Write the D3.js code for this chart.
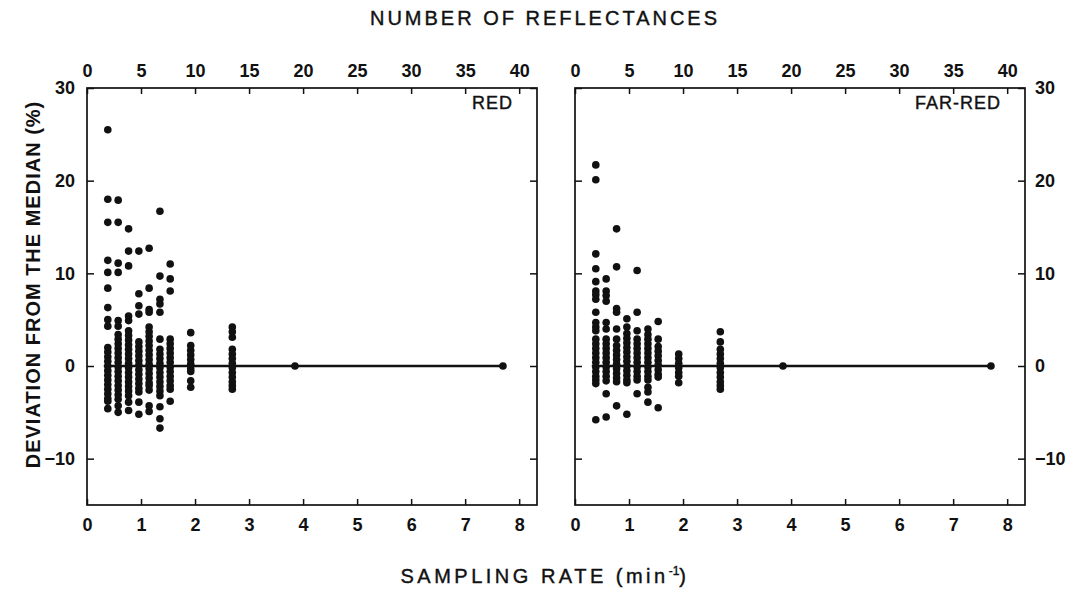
<!DOCTYPE html>
<html>
<head>
<meta charset="utf-8">
<script src="https://cdn.jsdelivr.net/npm/d3@7"></script>
<style>
  body { margin: 0; background: #fff; }
  text { font-family: "Liberation Sans", Arial, sans-serif; fill: #111; }
</style>
</head>
<body>
<div id="chart"></div>
<script>
// sampling rates (min^-1) of the columns of dots
var rates = [0.385, 0.577, 0.77, 0.96, 1.15, 1.35, 1.54, 1.92, 2.69, 3.85, 7.7];

// deviation from the median (%) per column, RED panel
var redValues = [
  [25.5, 18.0, 15.5, 11.4, 10.1, 8.4, 6.3, 5.0, 4.3, 2.0, 1.5, 1.0, 0.5, 0, -0.5, -1.0, -1.5, -2.0, -2.5, -3.0, -3.5, -3.8, -4.6],
  [17.9, 15.5, 11.1, 10.1, 4.9, 4.3, 3.4, 2.9, 2.4, 1.9, 1.4, 0.9, 0.4, -0.1, -0.6, -1.1, -1.6, -2.1, -2.6, -3.1, -3.6, -4.3, -5.0],
  [14.8, 12.4, 10.8, 5.4, 4.9, 3.8, 3.3, 2.8, 2.3, 1.8, 1.3, 0.8, 0.3, -0.2, -0.7, -1.2, -1.7, -2.2, -2.7, -3.2, -3.9, -4.8],
  [12.4, 7.8, 6.5, 5.6, 2.6, 2.1, 1.6, 1.1, 0.6, 0.1, -0.4, -0.9, -1.4, -1.9, -2.4, -2.8, -3.9, -5.2],
  [12.7, 8.4, 6.1, 5.8, 4.2, 3.7, 3.2, 2.7, 2.2, 1.7, 1.2, 0.7, 0.2, -0.3, -0.8, -1.3, -1.8, -2.1, -2.6, -4.3, -4.9],
  [16.7, 9.7, 7.2, 6.7, 5.8, 2.9, 1.8, 1.3, 0.8, 0.3, -0.2, -0.7, -1.2, -1.7, -2.2, -2.7, -3.2, -4.4, -5.7, -6.7],
  [11.0, 9.4, 8.1, 2.9, 2.4, 1.9, 1.4, 0.9, 0.4, -0.1, -0.6, -1.1, -1.6, -2.1, -2.5, -3.8],
  [3.6, 2.2, 1.7, 1.2, 0.7, 0.2, -0.3, -0.6, -1.6, -2.3],
  [4.2, 3.7, 3.1, 1.8, 1.3, 0.8, 0.3, -0.2, -0.7, -1.2, -1.7, -2.1, -2.5],
  [0],
  [0]
];

// FAR-RED panel
var farRedValues = [
  [21.7, 20.1, 12.1, 10.5, 9.1, 8.1, 7.7, 7.2, 5.8, 4.7, 4.2, 3.8, 2.9, 2.4, 1.9, 1.4, 0.9, 0.4, -0.1, -0.6, -1.1, -1.5, -1.9, -5.8],
  [9.4, 8.1, 7.6, 7.0, 4.7, 4.0, 2.9, 2.4, 1.9, 1.4, 0.9, 0.4, -0.1, -0.6, -1.1, -1.6, -3.0, -5.5],
  [14.8, 10.7, 6.2, 5.8, 4.0, 2.9, 2.2, 1.7, 1.2, 0.7, 0.2, -0.3, -0.8, -1.3, -1.7, -4.3],
  [5.1, 4.2, 3.5, 3.0, 2.5, 2.0, 1.5, 1.0, 0.5, 0.0, -0.5, -1.0, -1.5, -1.8, -5.2],
  [10.3, 5.8, 3.8, 2.9, 2.4, 1.9, 1.4, 0.9, 0.4, -0.1, -0.6, -1.1, -1.5, -3.0],
  [4.0, 3.4, 2.9, 2.4, 1.9, 1.4, 0.9, 0.4, -0.1, -0.6, -1.1, -1.5, -2.3, -2.8, -3.9],
  [4.8, 2.9, 2.1, 1.6, 1.1, 0.6, 0.1, -0.4, -0.9, -1.2, -4.5],
  [1.3, 0.8, 0.3, -0.2, -0.7, -1.1, -1.8],
  [3.7, 2.6, 1.8, 1.3, 0.8, 0.3, -0.2, -0.7, -1.2, -1.7, -2.1, -2.5],
  [0],
  [0]
];

var rateTicks = [0, 1, 2, 3, 4, 5, 6, 7, 8];
var reflTicks = [0, 5, 10, 15, 20, 25, 30, 35, 40];
var devTicks = [-10, 0, 10, 20, 30];

var W = 1072, H = 591;
var plotTop = 88, plotBottom = 505, pw = 450;
var panels = [
  {name: 'RED', left: 87, values: redValues, yLabels: 'left'},
  {name: 'FAR-RED', left: 575, values: farRedValues, yLabels: 'right'}
];

var svg = d3.select('#chart').append('svg')
  .attr('width', W)
  .attr('height', H);

var yScale = d3.scaleLinear().domain([-15, 30]).range([plotBottom, plotTop]);

panels.forEach(p => {
  var xScale = d3.scaleLinear().domain([0, 8.33]).range([p.left, p.left + pw]);
  var xTop = d3.scaleLinear().domain([0, 8.33 * 5]).range([p.left, p.left + pw]);
  var g = svg.append('g');

  // axes, ticks pointing inward
  g.append('g').attr('transform', `translate(0,${plotBottom})`)
    .call(d3.axisBottom(xScale).tickValues(rateTicks).tickSizeInner(-6).tickSizeOuter(0).tickPadding(13))
    .call(a => a.select('.domain').remove());
  g.append('g').attr('transform', `translate(0,${plotTop})`)
    .call(d3.axisTop(xTop).tickValues(reflTicks).tickSizeInner(-6).tickSizeOuter(0).tickPadding(11))
    .call(a => a.select('.domain').remove());
  var yl = g.append('g').attr('transform', `translate(${p.left},0)`)
    .call(d3.axisLeft(yScale).tickValues(devTicks).tickSizeInner(-7).tickSizeOuter(0).tickPadding(12))
    .call(a => a.select('.domain').remove());
  var yr = g.append('g').attr('transform', `translate(${p.left + pw},0)`)
    .call(d3.axisRight(yScale).tickValues(devTicks).tickSizeInner(-7).tickSizeOuter(0).tickPadding(10))
    .call(a => a.select('.domain').remove());
  if (p.yLabels === 'left') yr.selectAll('text').remove();
  else yl.selectAll('text').remove();

  g.selectAll('.tick line').attr('stroke', '#111').attr('stroke-width', 1.5);
  g.selectAll('.tick text')
    .attr('font-size', 18)
    .attr('font-weight', 'bold')
    .attr('fill', '#111')
    .attr('font-family', '"Liberation Sans", Arial, sans-serif');

  g.append('rect')
    .attr('x', p.left).attr('y', plotTop)
    .attr('width', pw).attr('height', plotBottom - plotTop)
    .attr('fill', 'none').attr('stroke', '#111').attr('stroke-width', 1.7);

  // median line
  g.append('line')
    .attr('x1', xScale(rates[0]) - 4).attr('x2', xScale(rates[rates.length - 1]))
    .attr('y1', yScale(0)).attr('y2', yScale(0))
    .attr('stroke', '#111').attr('stroke-width', 2.4);

  var pts = [];
  p.values.forEach((col, i) => col.forEach(v => pts.push({r: rates[i], v: v})));
  g.selectAll('circle.dot').data(pts).enter().append('circle')
    .attr('class', 'dot')
    .attr('cx', d => xScale(d.r))
    .attr('cy', d => yScale(d.v))
    .attr('r', 3.8)
    .attr('fill', '#111');

  g.append('text')
    .attr('x', p.left + pw - 24).attr('y', 109)
    .attr('text-anchor', 'end')
    .attr('font-size', 18)
    .attr('letter-spacing', 1)
    .attr('stroke', '#111').attr('stroke-width', 0.4)
    .text(p.name);
});

svg.append('text')
  .attr('x', 545).attr('y', 25)
  .attr('text-anchor', 'middle')
  .attr('font-size', 20)
  .attr('letter-spacing', 3)
  .attr('stroke', '#111').attr('stroke-width', 0.4)
  .text('NUMBER OF REFLECTANCES');

var xl = svg.append('text')
  .attr('x', 545).attr('y', 583)
  .attr('text-anchor', 'middle')
  .attr('font-size', 20)
  .attr('letter-spacing', 3.5)
  .attr('stroke', '#111').attr('stroke-width', 0.4);
xl.append('tspan').text('SAMPLING RATE  (min');
xl.append('tspan').attr('font-size', 12).attr('dy', -8).attr('letter-spacing', 0).text('-1');
xl.append('tspan').attr('dy', 8).text(')');

svg.append('text')
  .attr('transform', `translate(40,${(plotTop + plotBottom) / 2 - 12}) rotate(-90)`)
  .attr('text-anchor', 'middle')
  .attr('font-size', 20)
  .attr('font-weight', 'bold')
  .attr('letter-spacing', 1)
  .text('DEVIATION FROM THE MEDIAN (%)');
</script>
</body>
</html>
